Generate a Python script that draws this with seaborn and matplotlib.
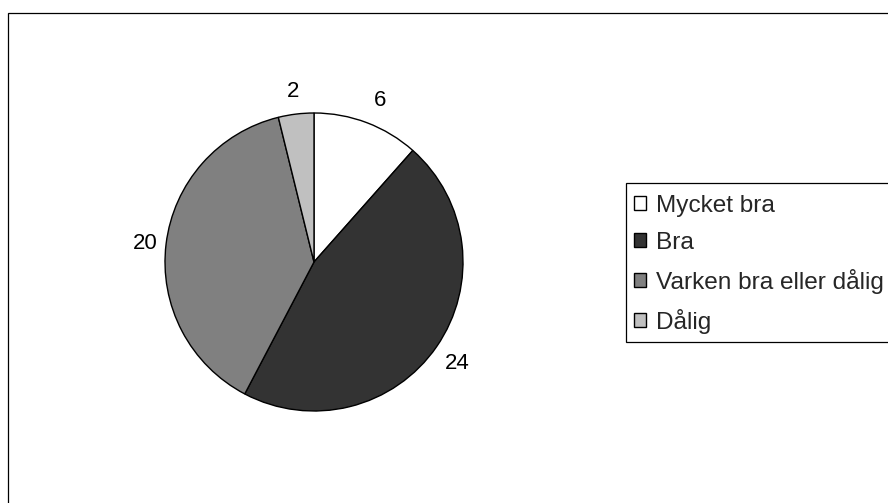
import matplotlib
matplotlib.use("Agg")
import matplotlib.pyplot as plt
from matplotlib.patches import Rectangle, Patch
from matplotlib.transforms import offset_copy
import seaborn as sns

categories = ["Mycket bra", "Bra", "Varken bra eller dålig", "Dålig"]
values = [6, 24, 20, 2]
colors = ["#FFFFFF", "#333333", "#808080", "#C0C0C0"]

sns.set_theme(style="white")
plt.rcParams["font.family"] = ["Liberation Sans", "DejaVu Sans"]

W, H = 888, 503
fig = plt.figure(figsize=(W / 100, H / 100), dpi=100)
fig.patch.set_facecolor("white")

# outer chart frame (runs off the right and bottom edges)
fig.patches.append(Rectangle((8 / W, -0.1), 1.2, 1.1 - 13 / H,
                             transform=fig.transFigure, fill=False,
                             edgecolor="black", linewidth=0.9, zorder=0))

cx, cy, r = 314, 262, 149
ax = fig.add_axes([(cx - r) / W, (H - cy - r) / H, 2 * r / W, 2 * r / H])
wedges, texts = ax.pie(
    values,
    colors=colors,
    labels=[str(v) for v in values],
    startangle=90,
    counterclock=False,
    labeldistance=1.17,
    wedgeprops=dict(edgecolor="black", linewidth=1.0),
    textprops=dict(fontsize=16, color="black"),
)
# small nudges of the value labels, in points
nudges = [(3, -1), (0, -2), (3, -2), (0, -2)]
for t, (dx, dy) in zip(texts, nudges):
    t.set_ha("center")
    t.set_va("center")
    t.set_transform(offset_copy(t.get_transform(), fig=fig, x=dx, y=dy, units="points"))
ax.set_xlim(-1, 1)
ax.set_ylim(-1, 1)
ax.axis("off")

# legend box (runs off the right edge)
fig.patches.append(Rectangle((626 / W, 1 - 342 / H), 1.0, (342 - 183) / H,
                             transform=fig.transFigure, fill=True,
                             facecolor="white", edgecolor="black",
                             linewidth=0.9, zorder=1))

handles = [Patch(facecolor=c, edgecolor="black", linewidth=1.0) for c in colors]
leg = fig.legend(
    handles, categories,
    loc="upper left",
    bbox_to_anchor=(626 / W, 1 - 187 / H),
    frameon=False,
    fontsize=17.6,
    handlelength=0.5, handleheight=0.5, handletextpad=0.4,
    labelspacing=0.61, borderpad=0.33, borderaxespad=0,
)
leg.set_zorder(2)

fig.savefig("out.png", dpi=100, facecolor="white")
